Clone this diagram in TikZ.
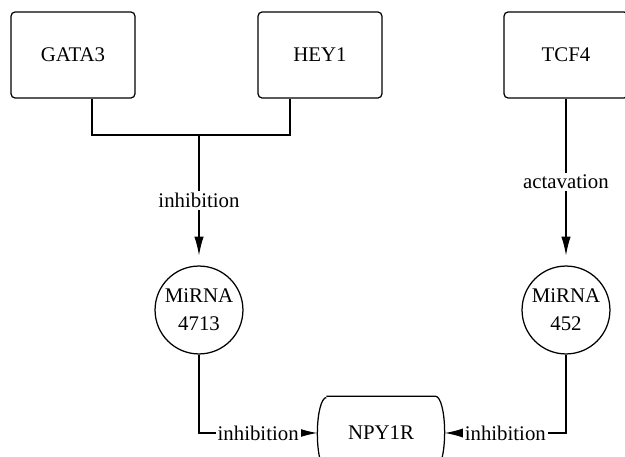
\documentclass[tikz,border=0pt]{standalone}
\usepackage{fontspec}
\setmainfont{Liberation Serif}
\usetikzlibrary{arrows.meta}

\tikzset{
	regpicture/.style = {
		x = 0.48pt,
		y = 0.48pt,
		line width = 0.6pt,
		arrow/.style = {
			draw,
			-{Latex[length=9pt, width=4.5pt]},
		}
	},
	genenode/.style = {
		rectangle,
		draw = black,
		rounded corners = 2pt,
		minimum width = 59.5pt,
		minimum height = 41.3pt
	},
	mirnode/.style = {
		circle,
		draw = black,
		align = center,
		inner sep = 0pt,
		minimum size = 42.2pt
	},
	targetnode/.style = {
		rectangle,
		minimum width = 60.5pt,
		minimum height = 34.6pt
	},
	edgelabel/.style = {
		fill = white,
		inner sep = 1pt
	}
}

\begin{document}
\begin{tikzpicture}[regpicture]
	\useasboundingbox (0,0) rectangle (625,457);

	\node[genenode] (GATA3) at (73,402) {GATA3};
	\node[genenode] (HEY1) at (320,402) {HEY1};
	\node[genenode] (TCF4) at (566,402) {TCF4};

	\node[mirnode] (M4713) at (199,147) {MiRNA\\[1.5pt]4713};
	\node[mirnode] (M452) at (566,147) {MiRNA\\[1.5pt]452};

	\node[targetnode] (NPY1R) at (381,24) {NPY1R};
	% outline of NPY1R, flat ends bowed outwards
	\draw ([xshift=4.3pt]NPY1R.north west) -- ([xshift=-4.3pt]NPY1R.north east)
		arc[start angle=90, end angle=-90, x radius=4.3pt, y radius=17.3pt]
		-- ([xshift=4.3pt]NPY1R.south west)
		arc[start angle=270, end angle=90, x radius=4.3pt, y radius=17.3pt];

	\coordinate (join) at (199,322);

	\draw ([xshift=9.1pt]GATA3.south) |- (join) -| ([xshift=-14.4pt]HEY1.south);

	\begin{scope}[every path/.style = arrow]
		\path[shorten >=4.8pt] (join) to node[edgelabel] {inhibition} (M4713);
		\path[shorten >=4.8pt] (TCF4) to node[edgelabel] {actavation} (M452);

		\path (M4713) |- node[edgelabel, pos=0.75] {inhibition} (NPY1R);
		\path (M452) |- node[edgelabel, pos=0.75] {inhibition} (NPY1R);
	\end{scope}
\end{tikzpicture}
\end{document}
